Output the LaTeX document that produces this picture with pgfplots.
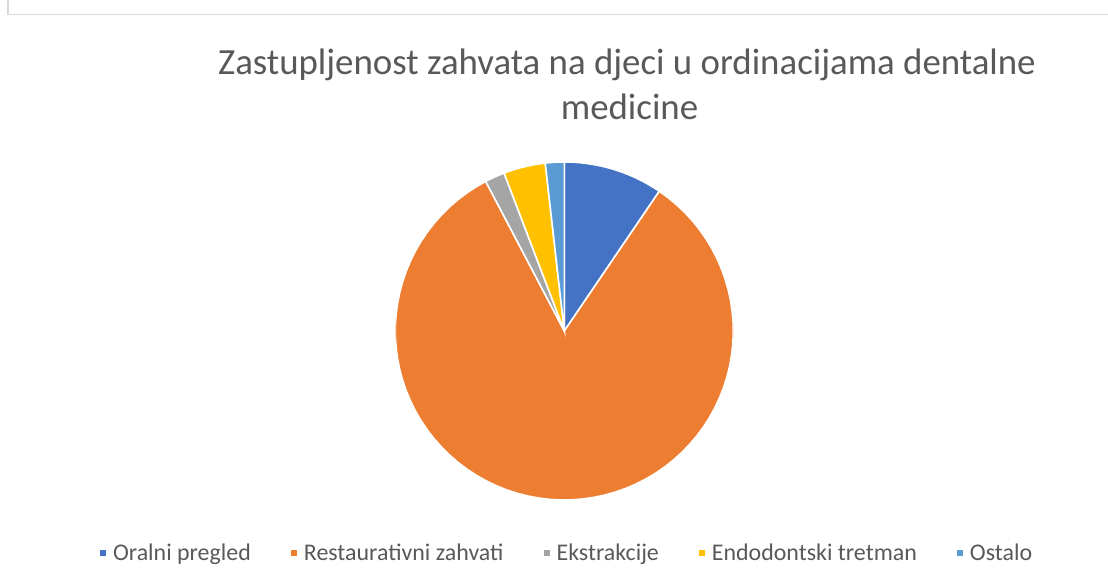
\documentclass[border=0pt]{standalone}
\usepackage{pgfplots}
\pgfplotsset{compat=1.18}
\usepackage{pgfplotstable}
\usepackage{fontspec}
\setmainfont{Carlito}
\definecolor{c1}{HTML}{4472C4}
\definecolor{c2}{HTML}{ED7D31}
\definecolor{c3}{HTML}{A5A5A5}
\definecolor{c4}{HTML}{FFC000}
\definecolor{c5}{HTML}{5B9BD5}
\definecolor{tgray}{HTML}{595959}
\definecolor{frame}{HTML}{D9D9D9}

\pgfplotstableread{
label value
Oralni 9.5
Restaurativni 82.8
Ekstrakcije 1.9
Endodontski 4.0
Ostalo 1.8
}\piedata

\begin{document}
\begin{tikzpicture}[x=1bp,y=1bp]
\path[use as bounding box] (0,0) rectangle (1108,584);
\fill[white] (0,0) rectangle (1108,584);
\draw[color=frame, line width=1.3bp] (8,700) -- (8,569.3) -- (1200,569.3);
\node[anchor=base, text=tgray, font=\fontsize{37}{44}\selectfont, inner sep=0pt] at (627,509.7) {Zastupljenost zahvata na djeci u ordinacijama dentalne};
\node[anchor=base, text=tgray, font=\fontsize{37}{44}\selectfont, inner sep=0pt] at (629.5,464) {medicine};

\pgfplotstablegetelem{0}{value}\of\piedata \let\va\pgfplotsretval
\pgfplotstablegetelem{1}{value}\of\piedata \let\vb\pgfplotsretval
\pgfplotstablegetelem{2}{value}\of\piedata \let\vc\pgfplotsretval
\pgfplotstablegetelem{3}{value}\of\piedata \let\vd\pgfplotsretval
\pgfplotstablegetelem{4}{value}\of\piedata \let\ve\pgfplotsretval
\pgfmathsetmacro{\aA}{90}
\pgfmathsetmacro{\aB}{\aA-3.6*\va}
\pgfmathsetmacro{\aC}{\aB-3.6*\vb}
\pgfmathsetmacro{\aD}{\aC-3.6*\vc}
\pgfmathsetmacro{\aE}{\aD-3.6*\vd}
\pgfmathsetmacro{\aF}{\aE-3.6*\ve}

\begin{axis}[
  hide axis, scale only axis,
  width=338bp, height=338bp,
  xmin=-1, xmax=1, ymin=-1, ymax=1,
  anchor=center, at={(564.3bp,253bp)},
  legend columns=5,
  legend image code/.code={\fill[#1] (0bp,-4bp) rectangle (8bp,4bp);},
  legend style={draw=none, fill=none, at={(0.506,-0.157)}, anchor=center,
    font=\fontsize{24}{28}\selectfont, text=tgray,
    cells={anchor=west},
    /tikz/every odd column/.style={column sep=3bp},
    /tikz/every even column/.style={column sep=36.5bp}},
  every axis plot/.append style={draw=white, line width=1.6bp, samples=80, variable=\t},
]
\addplot[fill=c1, domain=\aB:\aA] ({cos(\t)},{sin(\t)}) -- (axis cs:0,0) -- cycle;
\addlegendentry{Oralni pregled}
\addplot[fill=c2, domain=\aC:\aB] ({cos(\t)},{sin(\t)}) -- (axis cs:0,0) -- cycle;
\addlegendentry{Restaurativni zahvati}
\addplot[fill=c3, domain=\aD:\aC] ({cos(\t)},{sin(\t)}) -- (axis cs:0,0) -- cycle;
\addlegendentry{Ekstrakcije}
\addplot[fill=c4, domain=\aE:\aD] ({cos(\t)},{sin(\t)}) -- (axis cs:0,0) -- cycle;
\addlegendentry{Endodontski tretman}
\addplot[fill=c5, domain=\aF:\aE] ({cos(\t)},{sin(\t)}) -- (axis cs:0,0) -- cycle;
\addlegendentry{Ostalo}
\end{axis}
\end{tikzpicture}
\end{document}
